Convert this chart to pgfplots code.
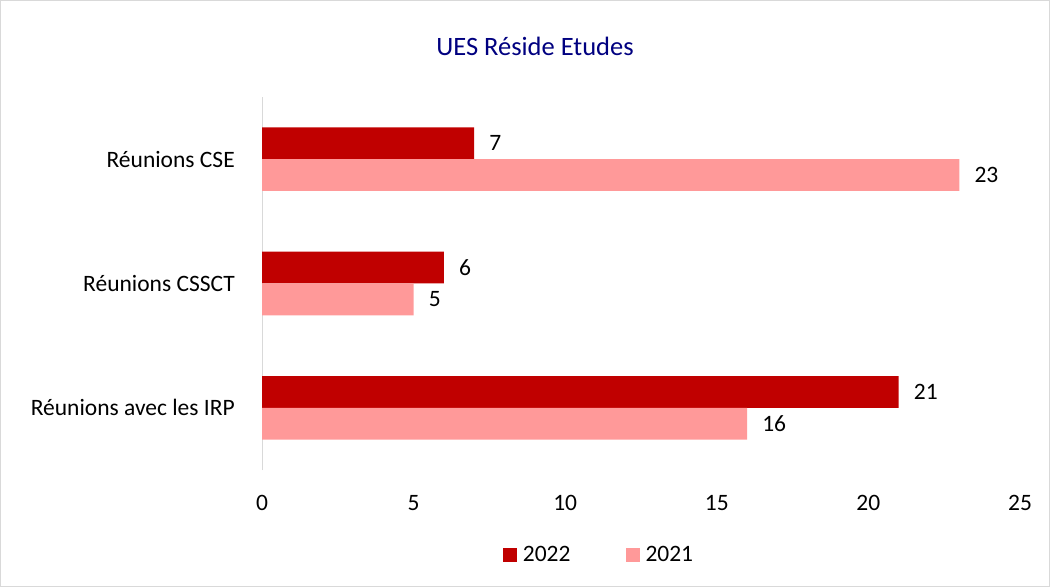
\documentclass[border=0pt]{standalone}
\usepackage{fontspec}
\setmainfont{Carlito}
\usepackage{pgfplots}
\pgfplotsset{compat=1.18}
\definecolor{dred}{HTML}{C00000}
\definecolor{lpink}{HTML}{FF9999}
\definecolor{navy}{HTML}{000080}
\definecolor{frame}{HTML}{D9D9D9}
\newcommand{\lf}{\fontsize{23.5}{28}\selectfont}
\begin{document}
\begin{tikzpicture}[x=1pt,y=1pt]
\useasboundingbox (0,0) rectangle (1050,587);
\draw[frame, line width=1pt] (0.5,0.5) rectangle (1049.5,586.5);
\node[text=navy, font=\fontsize{26.5}{32}\selectfont, anchor=base] at (535,531) {UES Réside Etudes};
\begin{axis}[
  at={(262pt,117pt)}, anchor=south west,
  scale only axis, width=758pt, height=373pt,
  xmin=0, xmax=25, ymin=-0.5, ymax=2.5,
  xbar, bar width=0.256,
  axis lines=left,
  x axis line style={draw=none},
  y axis line style={frame, line width=1pt, -},
  major tick length=0pt,
  /pgf/number format/assume math mode=true,
  xtick={0,5,10,15,20,25},
  ytick={0,1,2},
  yticklabels={Réunions avec les IRP, Réunions CSSCT, Réunions CSE},
  xticklabel style={anchor=base, yshift=-40pt, font=\lf},
  yticklabel style={anchor=east, inner sep=0pt, xshift=-27pt, font=\lf},
  nodes near coords,
  nodes near coords style={anchor=west, inner sep=0pt, xshift=15pt, font=\lf, text=black},
  legend style={at={(0.4446,-0.228)}, anchor=center, draw=none, legend columns=2,
    font=\lf,
    /tikz/every even column/.append style={column sep=53pt}},
  legend image code/.code={\fill[#1] (0pt,-7pt) rectangle (14pt,7pt); \path (18pt,0pt);},
]
\addplot[fill=dred, draw=none, bar shift=0.128] coordinates {(21,0) (6,1) (7,2)};
\addplot[fill=lpink, draw=none, bar shift=-0.128] coordinates {(16,0) (5,1) (23,2)};
\legend{2022, 2021}
\end{axis}
\end{tikzpicture}
\end{document}
